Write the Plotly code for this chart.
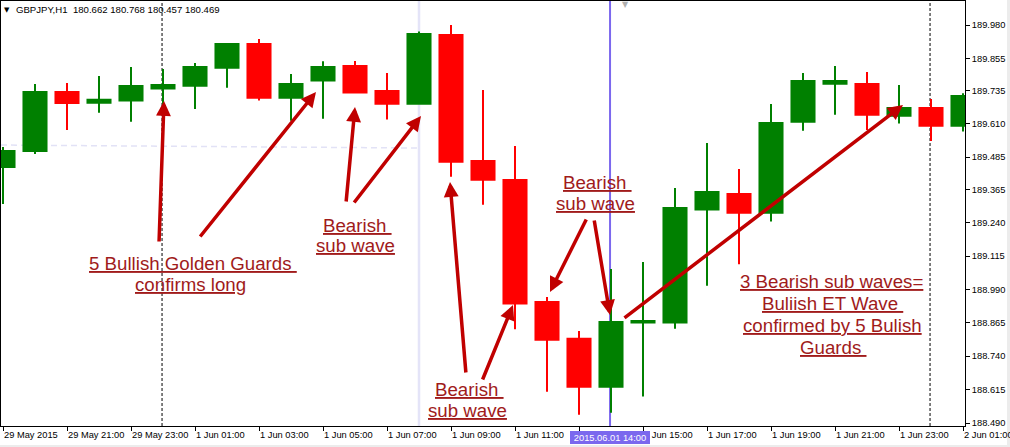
import plotly.graph_objects as go

# ---------------- data ----------------
times = ["29 May 19:00", "29 May 20:00", "29 May 21:00", "29 May 22:00", "29 May 23:00",
         "1 Jun 00:00", "1 Jun 01:00", "1 Jun 02:00", "1 Jun 03:00", "1 Jun 04:00",
         "1 Jun 05:00", "1 Jun 06:00", "1 Jun 07:00", "1 Jun 08:00", "1 Jun 09:00",
         "1 Jun 10:00", "1 Jun 11:00", "1 Jun 12:00", "1 Jun 13:00", "1 Jun 14:00",
         "1 Jun 15:00", "1 Jun 16:00", "1 Jun 17:00", "1 Jun 18:00", "1 Jun 19:00",
         "1 Jun 20:00", "1 Jun 21:00", "1 Jun 22:00", "1 Jun 23:00", "2 Jun 00:00",
         "2 Jun 01:00"]

opens = [189.448, 189.508, 189.729, 189.689, 189.697, 189.742, 189.753, 189.820, 189.909, 189.708,
         189.772, 189.827, 189.733, 189.685, 189.943, 189.471, 189.400, 188.943, 188.805, 188.626,
         188.866, 188.866, 189.289, 189.347, 189.277, 189.618, 189.760, 189.759, 189.640, 189.669,
         189.603]
highs = [189.523, 189.759, 189.763, 189.789, 189.823, 189.815, 189.838, 189.909, 189.928, 189.797,
         189.844, 189.845, 189.800, 189.956, 189.980, 189.737, 189.527, 188.962, 188.834, 189.067,
         189.093, 189.370, 189.538, 189.441, 189.684, 189.800, 189.827, 189.804, 189.755, 189.703,
         189.725]
lows = [189.310, 189.497, 189.587, 189.652, 189.618, 189.561, 189.666, 189.745, 189.697, 189.622,
        189.629, 189.727, 189.626, 189.685, 189.412, 189.307, 188.841, 188.607, 188.521, 188.528,
        188.589, 188.843, 189.004, 189.084, 189.244, 189.584, 189.644, 189.587, 189.611, 189.546,
        189.581]
closes = [189.508, 189.729, 189.688, 189.700, 189.752, 189.755, 189.823, 189.909, 189.708, 189.759,
          189.823, 189.727, 189.685, 189.946, 189.468, 189.401, 188.937, 188.802, 188.626, 188.868,
          188.872, 189.295, 189.355, 189.277, 189.613, 189.770, 189.770, 189.644, 189.669, 189.603,
          189.714]

tick_times = ["29 May 19:00", "29 May 21:00", "29 May 23:00", "1 Jun 01:00", "1 Jun 03:00",
              "1 Jun 05:00", "1 Jun 07:00", "1 Jun 09:00", "1 Jun 11:00", "1 Jun 13:00",
              "1 Jun 15:00", "1 Jun 17:00", "1 Jun 19:00", "1 Jun 21:00", "1 Jun 23:00",
              "2 Jun 01:00"]
tick_labels = ["29 May 2015", "29 May 21:00", "29 May 23:00", "1 Jun 01:00", "1 Jun 03:00",
               "1 Jun 05:00", "1 Jun 07:00", "1 Jun 09:00", "1 Jun 11:00", "1 Jun 13:00",
               "1 Jun 15:00", "1 Jun 17:00", "1 Jun 19:00", "1 Jun 21:00", "1 Jun 23:00",
               "2 Jun 01:00"]
price_ticks = [189.980, 189.855, 189.735, 189.610, 189.485, 189.365, 189.240,
               189.115, 188.990, 188.865, 188.740, 188.615, 188.490]

title_text = "GBPJPY,H1  180.662 180.768 180.457 180.469"
cursor_label = "2015.06.01 14:00"

# ---------------- layout helpers ----------------
FONT = "Liberation Sans, Arial, sans-serif"
TXT_RED = "#a01b1b"
ARROW_RED = "#c00000"


def px(x):
    return (x - 1) / 964.0


def py(y):
    return (426 - y) / 425.0


fig = go.Figure()
fig.add_trace(go.Candlestick(
    x=times, open=opens, high=highs, low=lows, close=closes,
    increasing=dict(line=dict(color="#008000", width=2), fillcolor="#008000"),
    decreasing=dict(line=dict(color="#ff0000", width=2), fillcolor="#ff0000"),
    whiskerwidth=0, showlegend=False, hoverinfo="skip",
))

shapes = [
    # light lavender trend line
    dict(type="line", xref="x", yref="y", x0=-0.0625, x1=13, y0=189.5307, y1=189.5195,
         line=dict(color="#e2e2f6", width=1.5, dash="6px,4px"), layer="below"),
    # light lavender vertical line
    dict(type="line", xref="x", yref="paper", x0=13, x1=13, y0=0, y1=1,
         line=dict(color="#e4e4f8", width=2.5), layer="below"),
    # period separators
    dict(type="line", xref="x", yref="paper", x0=4.97, x1=4.97, y0=0, y1=1,
         line=dict(color="black", width=1, dash="3px,2px"), layer="below"),
    dict(type="line", xref="x", yref="paper", x0=28.97, x1=28.97, y0=0, y1=1,
         line=dict(color="black", width=1, dash="3px,2px"), layer="below"),
    # crosshair vertical line
    dict(type="line", xref="x", yref="paper", x0=18.97, x1=18.97, y0=0, y1=1,
         line=dict(color="#7b68ee", width=2), layer="below"),
    # window edges
    dict(type="rect", xref="paper", yref="paper", x0=px(1007), x1=px(1012), y0=py(448), y1=py(-1),
         fillcolor="#ececec", line=dict(width=0), layer="below"),
    dict(type="rect", xref="paper", yref="paper", x0=px(-1), x1=px(1012), y0=py(448), y1=py(445),
         fillcolor="#ececec", line=dict(width=0), layer="below"),
]

annotations = []

# title
annotations.append(dict(xref="paper", yref="paper", x=px(2), y=py(10), xanchor="left", yanchor="middle",
                        text="▼", showarrow=False, font=dict(family="DejaVu Sans", size=7, color="black")))
annotations.append(dict(xref="paper", yref="paper", x=px(14), y=py(10), xanchor="left", yanchor="middle",
                        text=title_text, showarrow=False, font=dict(family=FONT, size=9.6, color="black")))
# grey shift marker
annotations.append(dict(xref="paper", yref="paper", x=px(625), y=py(4), xanchor="center", yanchor="middle",
                        text="▼", showarrow=False, font=dict(family="DejaVu Sans", size=8, color="#b0b0b0")))

# cursor time label
annotations.append(dict(xref="paper", yref="paper", x=px(610), y=py(437), xanchor="center", yanchor="middle",
                        text=cursor_label, showarrow=False, bgcolor="#7b68ee", width=80, height=13,
                        borderpad=0, borderwidth=0, font=dict(family=FONT, size=9.3, color="white")))

# comment texts: (text, center x px, baseline y px)
NB = "\u00a0"
text_lines = [
    ("5 Bullish Golden Guards" + NB, 193, 268),
    ("confirms long", 190.5, 289),
    ("Bearish" + NB, 357, 230),
    ("sub wave", 355.5, 251),
    ("Bearish" + NB, 597, 187),
    ("sub wave", 595.5, 208),
    ("Bearish" + NB, 469.5, 394),
    ("sub wave", 467.5, 415),
    ("3 Bearish sub waves=", 831, 286),
    ("Buliish ET Wave" + NB, 832, 308),
    ("confirmed by 5 Bulish", 832, 330),
    ("Guards" + NB, 832.5, 352),
]
for t, cx, base in text_lines:
    annotations.append(dict(xref="paper", yref="paper", x=px(cx), y=py(base - 5),
                            xanchor="center", yanchor="middle", text="<u>" + t + "</u>",
                            showarrow=False, font=dict(family=FONT, size=18.7, color=TXT_RED)))

# arrows: (tail x, tail y, tip x, tip y) in px
arrows = [
    (159, 243, 164, 101),
    (199, 238, 316, 92),
    (346, 203, 355, 107),
    (353, 204, 421, 116),
    (466, 374, 450, 182),
    (482, 381, 513, 305),
    (587, 218, 550, 292),
    (594, 219, 610, 315),
    (623, 319, 903, 105),
]
for tx, ty, hx, hy in arrows:
    annotations.append(dict(xref="paper", yref="paper", x=px(hx), y=py(hy),
                            ax=tx - hx, ay=ty - hy, axref="pixel", ayref="pixel",
                            text="", showarrow=True, arrowhead=2, arrowsize=0.85,
                            arrowwidth=3.5, arrowcolor=ARROW_RED, standoff=0, startstandoff=0))

fig.update_layout(
    width=1010, height=447,
    margin=dict(l=1, r=45, t=1, b=21, autoexpand=False),
    paper_bgcolor="white", plot_bgcolor="white",
    showlegend=False,
    boxgap=0.28, boxgroupgap=0,
    shapes=shapes,
    annotations=annotations,
    xaxis=dict(
        type="category", range=[-0.0625, 30.0625], automargin=False,
        tickmode="array", tickvals=tick_times, ticktext=tick_labels,
        ticks="outside", ticklen=4, tickcolor="black", tickwidth=1,
        ticklabelposition="outside right", tickangle=0,
        tickfont=dict(family=FONT, size=9.3, color="black"),
        showline=True, linecolor="black", linewidth=1, mirror=True,
        showgrid=False, zeroline=False, rangeslider=dict(visible=False), fixedrange=True,
    ),
    yaxis=dict(
        side="right", range=[188.4788, 190.0699], automargin=False,
        tickmode="array", tickvals=price_ticks, ticktext=["%.3f" % v for v in price_ticks],
        ticks="outside", ticklen=4, tickcolor="black", tickwidth=1,
        tickfont=dict(family=FONT, size=9.3, color="black"),
        showline=True, linecolor="black", linewidth=1, mirror=True,
        showgrid=False, zeroline=False, fixedrange=True,
    ),
)

fig.write_html("out.html", config={"displayModeBar": False},
               post_script="document.body.style.margin='0px';document.body.style.overflow='hidden';")
